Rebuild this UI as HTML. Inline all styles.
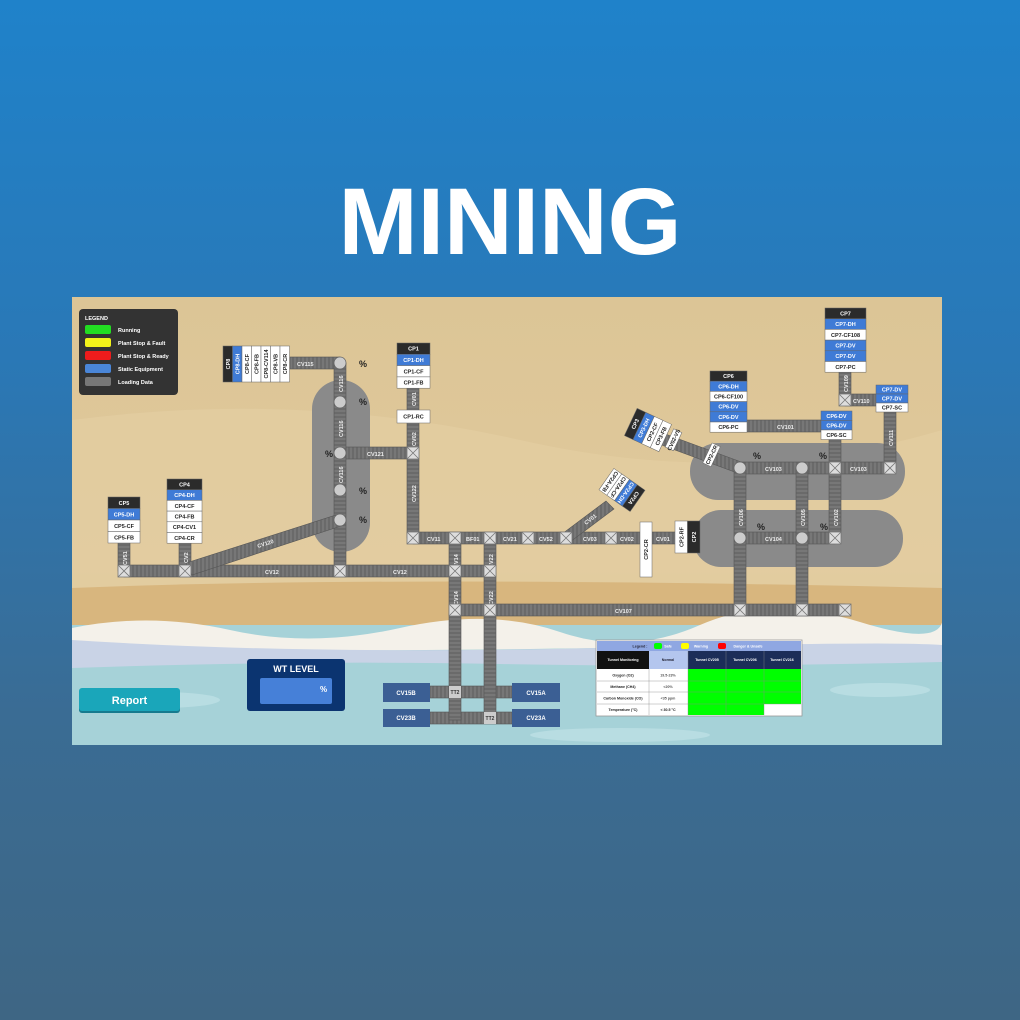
<!DOCTYPE html>
<html><head><meta charset="utf-8">
<style>
html,body{margin:0;padding:0;}
body{width:1020px;height:1020px;overflow:hidden;background:linear-gradient(180deg,#1f82ca 0%,#2a78b6 35%,#3a6c94 70%,#3e6684 100%);font-family:"Liberation Sans",sans-serif;position:relative;}
#title{position:absolute;left:0;width:1020px;top:167px;text-align:center;color:#fff;font-weight:bold;font-size:95px;letter-spacing:0px;line-height:110px;}
svg text{font-family:"Liberation Sans",sans-serif;font-weight:bold;}
</style></head>
<body>
<div id="title">MINING</div>
<svg width="1020" height="1020" style="position:absolute;left:0;top:0">
<defs>
<pattern id="ph" patternUnits="userSpaceOnUse" width="4" height="4"><rect width="4" height="4" fill="#777"/><rect width="2" height="4" fill="#6a6a6a"/></pattern>
<pattern id="pv" patternUnits="userSpaceOnUse" width="4" height="4"><rect width="4" height="4" fill="#777"/><rect width="4" height="2" fill="#6a6a6a"/></pattern>
<linearGradient id="sand" x1="0" y1="0" x2="0" y2="1"><stop offset="0" stop-color="#dcc596"/><stop offset="0.6" stop-color="#e0c99c"/><stop offset="1" stop-color="#d6b47c"/></linearGradient>
<clipPath id="pc"><rect x="72" y="297" width="870" height="448"/></clipPath>
</defs>
<g clip-path="url(#pc)">
<rect x="72" y="297" width="870" height="448" fill="url(#sand)"/>
<path d="M72 420 Q300 390 520 440 T942 430 L942 600 L72 600Z" fill="#e4cfa4" opacity="0.6"/>
<path d="M72 588 Q400 575 942 588 L942 625 L72 625Z" fill="#d8b67e"/>
<rect x="72" y="625" width="870" height="120" fill="#a6d2d8"/>
<path d="M72 628 Q150 612 230 630 T400 628 T560 632 T700 625 T860 622 T942 612 L942 650 Q800 645 600 648 T300 650 T72 652Z" fill="#f4f1ea"/>
<path d="M72 640 Q300 655 600 648 T942 645 L942 662 Q700 668 500 664 T72 668Z" fill="#c9d3e6"/>
<ellipse cx="160" cy="700" rx="60" ry="8" fill="#b8dde2"/>
<ellipse cx="620" cy="735" rx="90" ry="7" fill="#b8dde2"/>
<ellipse cx="880" cy="690" rx="50" ry="7" fill="#b8dde2"/>
</g>
<rect x="312" y="380" width="58" height="172" rx="29" fill="#8a8a8a"/>
<rect x="690" y="443" width="215" height="57" rx="28" fill="#8a8a8a"/>
<rect x="693" y="510" width="210" height="57" rx="28" fill="#8a8a8a"/>
<g>
<rect x="79" y="309" width="99" height="86" rx="4" fill="#333"/>
<text x="85" y="320" font-size="5.5" fill="#fff">LEGEND</text>
<rect x="85" y="325" width="26" height="9" rx="2" fill="#22dd22"/><text x="118" y="332" font-size="5.5" fill="#fff">Running</text>
<rect x="85" y="338" width="26" height="9" rx="2" fill="#f2f21a"/><text x="118" y="345" font-size="5.5" fill="#fff">Plant Stop &amp; Fault</text>
<rect x="85" y="351" width="26" height="9" rx="2" fill="#ee1c1c"/><text x="118" y="358" font-size="5.5" fill="#fff">Plant Stop &amp; Ready</text>
<rect x="85" y="364" width="26" height="9" rx="2" fill="#4a86d8"/><text x="118" y="371" font-size="5.5" fill="#fff">Static Equipment</text>
<rect x="85" y="377" width="26" height="9" rx="2" fill="#777"/><text x="118" y="384" font-size="5.5" fill="#fff">Loading Data</text>
</g>
<g stroke="#555" stroke-width="0.6">
<rect x="124" y="565" width="366" height="12" fill="url(#ph)"/>
<rect x="290" y="357" width="50" height="12" fill="url(#ph)"/>
<rect x="340" y="447" width="73" height="12" fill="url(#ph)"/>
<rect x="413" y="532" width="227" height="12" fill="url(#ph)"/>
<rect x="652" y="532" width="24" height="12" fill="url(#ph)"/>
<rect x="455" y="604" width="390" height="12" fill="url(#ph)"/>
<rect x="430" y="686" width="82" height="12" fill="url(#ph)"/>
<rect x="430" y="712" width="82" height="12" fill="url(#ph)"/>
<rect x="740" y="462" width="150" height="12" fill="url(#ph)"/>
<rect x="740" y="532" width="95" height="12" fill="url(#ph)"/>
<rect x="747" y="420" width="75" height="12" fill="url(#ph)"/>
<rect x="845" y="394" width="31" height="12" fill="url(#ph)"/>
<rect x="118" y="543" width="12" height="28" fill="url(#pv)"/>
<rect x="179" y="543" width="12" height="28" fill="url(#pv)"/>
<rect x="334" y="363" width="12" height="208" fill="url(#pv)"/>
<rect x="407" y="388" width="12" height="150" fill="url(#pv)"/>
<rect x="449" y="538" width="12" height="182" fill="url(#pv)"/>
<rect x="484" y="538" width="12" height="182" fill="url(#pv)"/>
<rect x="734" y="468" width="12" height="142" fill="url(#pv)"/>
<rect x="796" y="468" width="12" height="142" fill="url(#pv)"/>
<rect x="829" y="439" width="12" height="99" fill="url(#pv)"/>
<rect x="839" y="372" width="12" height="28" fill="url(#pv)"/>
<rect x="884" y="412" width="12" height="56" fill="url(#pv)"/>
<polygon points="186,563 336,515 344,525 192,575" fill="url(#ph)"/>
<polygon points="562,534 606,501 614,509 570,542" fill="url(#ph)"/>
<polygon points="660,432 744,463 740,474 656,443" fill="url(#ph)"/>
</g>
<g font-size="5.5" fill="#eee">
<text x="265" y="574">CV12</text><text x="393" y="574">CV12</text>
<text x="297" y="366">CV115</text><text x="367" y="456">CV121</text>
<text x="427" y="541">CV11</text><text x="466" y="541">BF01</text><text x="503" y="541">CV21</text>
<text x="539" y="541">CV52</text><text x="583" y="541">CV03</text><text x="620" y="541">CV02</text><text x="656" y="541">CV01</text>
<text x="615" y="613">CV107</text><text x="765" y="471">CV103</text><text x="850" y="471">CV103</text>
<text x="765" y="541">CV104</text><text x="777" y="429">CV101</text><text x="853" y="403">CV110</text>
<text transform="translate(258,548) rotate(-18)">CV120</text>
<text transform="translate(586,525) rotate(-37)">CV01</text>
<text transform="translate(127,565) rotate(-90)">CV51</text>
<text transform="translate(188,563) rotate(-90)">CV2</text>
<text transform="translate(343,392) rotate(-90)">CV116</text>
<text transform="translate(343,437) rotate(-90)">CV116</text>
<text transform="translate(343,483) rotate(-90)">CV116</text>
<text transform="translate(416,406) rotate(-90)">CV01</text>
<text transform="translate(416,446) rotate(-90)">CV02</text>
<text transform="translate(416,502) rotate(-90)">CV122</text>
<text transform="translate(458,568) rotate(-90)">CV14</text>
<text transform="translate(493,568) rotate(-90)">CV22</text>
<text transform="translate(458,605) rotate(-90)">CV14</text>
<text transform="translate(493,605) rotate(-90)">CV22</text>
<text transform="translate(743,526) rotate(-90)">CV106</text>
<text transform="translate(805,526) rotate(-90)">CV105</text>
<text transform="translate(838,526) rotate(-90)">CV102</text>
<text transform="translate(848,392) rotate(-90)">CV109</text>
<text transform="translate(893,446) rotate(-90)">CV111</text>
</g>
<g id="junc" fill="#ddd" stroke="#777" stroke-width="0.8"></g>
<g id="circ" fill="#ccc" stroke="#666" stroke-width="0.8"></g>
<g font-size="9" fill="#222" font-weight="normal">
<text x="359" y="367">%</text><text x="359" y="405">%</text><text x="325" y="457">%</text><text x="359" y="494">%</text><text x="359" y="523">%</text>
<text x="753" y="459">%</text><text x="819" y="459">%</text><text x="757" y="530">%</text><text x="820" y="530">%</text>
</g>
<g id="boxes" font-size="5.5" text-anchor="middle"></g>
<g font-size="6" fill="#fff" text-anchor="middle">
<rect x="383" y="683" width="47" height="19" fill="#3b5f94"/><text x="406" y="695">CV15B</text>
<rect x="512" y="683" width="48" height="19" fill="#3b5f94"/><text x="536" y="695">CV15A</text>
<rect x="383" y="709" width="47" height="18" fill="#3b5f94"/><text x="406" y="720">CV23B</text>
<rect x="512" y="709" width="48" height="18" fill="#3b5f94"/><text x="536" y="720">CV23A</text>
<rect x="449" y="686" width="12" height="12" fill="#ccc"/><text x="455" y="694" fill="#333" font-size="5">TT2</text>
<rect x="484" y="712" width="12" height="12" fill="#ccc"/><text x="490" y="720" fill="#333" font-size="5">TT2</text>
</g>
<g>
<rect x="79" y="689" width="101" height="24" rx="3" fill="#167a8e"/>
<rect x="79" y="688" width="101" height="23" rx="3" fill="#1aa6ba"/>
<text x="129.5" y="704" font-size="11" fill="#fff" text-anchor="middle">Report</text>
</g>
<g>
<rect x="247" y="659" width="98" height="52" rx="3" fill="#0b3470"/>
<text x="296" y="672" font-size="9" fill="#fff" text-anchor="middle">WT LEVEL</text>
<rect x="260" y="678" width="72" height="26" rx="2" fill="#4680d8"/>
<text x="320" y="692" font-size="8" fill="#fff">%</text>
</g>
<g font-size="3.6" text-anchor="middle">
<rect x="596" y="640" width="206" height="76" fill="#fff" stroke="#999" stroke-width="0.8"/>
<rect x="597" y="641" width="204" height="10" fill="#8fa7e2"/>
<text x="640" y="647.5" fill="#223">Legend :</text>
<rect x="654" y="643" width="8" height="6" rx="2" fill="#0f0"/><text x="668" y="647.5" fill="#fff">Safe</text>
<rect x="681" y="643" width="8" height="6" rx="2" fill="#ff0"/><text x="701" y="647.5" fill="#fff">Warning</text>
<rect x="718" y="643" width="8" height="6" rx="2" fill="#f00"/><text x="748" y="647.5" fill="#fff">Danger &amp; Unsafe</text>
<rect x="597" y="651" width="52" height="18" fill="#111"/><text x="623" y="661" fill="#fff">Tunnel Monitoring</text>
<rect x="649" y="651" width="39" height="18" fill="#b4c6ee"/><text x="668" y="661" fill="#223">Normal</text>
<rect x="688" y="651" width="113" height="18" fill="#1c2d58"/>
<text x="707" y="661" fill="#fff">Tunnel CV205</text><text x="745" y="661" fill="#fff">Tunnel CV206</text><text x="782" y="661" fill="#fff">Tunnel CV216</text>
<rect x="688" y="669" width="113" height="35" fill="#00ff00"/>
<rect x="688" y="704" width="76" height="11" fill="#00ff00"/>
<g stroke="#888" stroke-width="0.4"><line x1="597" y1="681" x2="801" y2="681"/><line x1="597" y1="692" x2="801" y2="692"/><line x1="597" y1="704" x2="801" y2="704"/><line x1="649" y1="669" x2="649" y2="715"/><line x1="688" y1="651" x2="688" y2="715"/><line x1="726" y1="651" x2="726" y2="715"/><line x1="764" y1="651" x2="764" y2="715"/></g>
<text x="623" y="676.5" fill="#222">Oxygen (O2)</text><text x="668" y="676.5" fill="#555">19.5-23%</text>
<text x="623" y="688" fill="#222">Methane (CH4)</text><text x="668" y="688" fill="#555">&lt;20%</text>
<text x="623" y="699.5" fill="#222">Carbon Monoxide (CO)</text><text x="668" y="699.5" fill="#555">&lt;35 ppm</text>
<text x="623" y="711" fill="#222">Temperature (°C)</text><text x="668" y="711" fill="#222">&lt; 30.5 °C</text>
</g>
</svg>
<script>
var NS='http://www.w3.org/2000/svg';
var juncs=[[124,571],[185,571],[340,571],[455,571],[490,571],[413,453],[413,538],[455,538],[490,538],[528,538],[566,538],[611,538],[455,610],[490,610],[740,610],[802,610],[845,610],[835,468],[890,468],[835,538],[845,400]];
var circs=[[340,363],[340,402],[340,453],[340,490],[340,520],[740,468],[802,468],[740,538],[802,538]];
var jg=document.getElementById('junc');
juncs.forEach(function(p){
var g=document.createElementNS(NS,'g');


var r=document.createElementNS(NS,'rect');r.setAttribute('x',p[0]-6);r.setAttribute('y',p[1]-6);r.setAttribute('width',12);r.setAttribute('height',12);g.appendChild(r);
var l=document.createElementNS(NS,'path');l.setAttribute('d','M'+(p[0]-6)+' '+(p[1]-6)+'l12 12M'+(p[0]+6)+' '+(p[1]-6)+'l-12 12');g.appendChild(l);
jg.appendChild(g);});
var cg=document.getElementById('circ');
circs.forEach(function(p){
var c=document.createElementNS(NS,'circle');


c.setAttribute('cx',p[0]);c.setAttribute('cy',p[1]);c.setAttribute('r',6);cg.appendChild(c);});
var bg=document.getElementById('boxes');
function col(x,y,w,h,items){
items.forEach(function(it,i){
var t=it[1],fill=t=='k'?'#2b2b2b':t=='b'?'#3f7bd6':'#fff',tc=t=='w'?'#222':'#fff';
var r=document.createElementNS(NS,'rect');


r.setAttribute('x',x);r.setAttribute('y',y+i*h);r.setAttribute('width',w);r.setAttribute('height',h);r.setAttribute('fill',fill);r.setAttribute('stroke','#666');r.setAttribute('stroke-width','0.5');bg.appendChild(r);
var tx=document.createElementNS(NS,'text');tx.setAttribute('x',x+w/2);tx.setAttribute('y',y+i*h+h/2+2);tx.setAttribute('fill',tc);tx.textContent=it[0];bg.appendChild(tx);});}
function row(g,x,y,w,h,items){
items.forEach(function(it,i){
var t=it[1],fill=t=='k'?'#2b2b2b':t=='b'?'#3f7bd6':'#fff',tc=t=='w'?'#222':'#fff';
var r=document.createElementNS(NS,'rect');


r.setAttribute('x',x+i*w);r.setAttribute('y',y);r.setAttribute('width',w);r.setAttribute('height',h);r.setAttribute('fill',fill);r.setAttribute('stroke','#666');r.setAttribute('stroke-width','0.5');g.appendChild(r);
var tx=document.createElementNS(NS,'text');var cx=x+i*w+w/2+2,cy=y+h/2;tx.setAttribute('transform','translate('+cx+','+cy+') rotate(-90)');tx.setAttribute('fill',tc);tx.textContent=it[0];g.appendChild(tx);});}
col(108,497,32,11.5,[['CP5','k'],['CP5-DH','b'],['CP5-CF','w'],['CP5-FB','w']]);
col(167,479,35,10.7,[['CP4','k'],['CP4-DH','b'],['CP4-CF','w'],['CP4-FB','w'],['CP4-CV1','w'],['CP4-CR','w']]);
col(397,343,33,11.3,[['CP1','k'],['CP1-DH','b'],['CP1-CF','w'],['CP1-FB','w']]);
col(397,410,33,13,[['CP1-RC','w']]);
col(710,371,37,10.2,[['CP6','k'],['CP6-DH','b'],['CP6-CF100','w'],['CP6-DV','b'],['CP6-DV','b'],['CP6-PC','w']]);
col(825,308,41,10.7,[['CP7','k'],['CP7-DH','b'],['CP7-CF108','w'],['CP7-DV','b'],['CP7-DV','b'],['CP7-PC','w']]);
col(821,411,31,9.5,[['CP6-DV','b'],['CP6-DV','b'],['CP6-SC','w']]);
col(876,385,32,9,[['CP7-DV','b'],['CP7-DV','b'],['CP7-SC','w']]);
var g8=document.createElementNS(NS,'g');bg.appendChild(g8);
row(g8,223,346,9.5,36,[['CP8','k'],['CP8-DH','b'],['CP8-CF','w'],['CP8-FB','w'],['CP8-CV114','w'],['CP8-VB','w'],['CP8-CR','w']]);
var g3=document.createElementNS(NS,'g');g3.setAttribute('transform','translate(648,430) rotate(25)');bg.appendChild(g3);
row(g3,-19,-15,9.5,30,[['CP3','k'],['CP3-DH','b'],['CP2-CF','w'],['CP3-FB','w']]);
var g2a=document.createElementNS(NS,'g');g2a.setAttribute('transform','translate(622,490) rotate(-145)');bg.appendChild(g2a);
row(g2a,-19,-13,9.5,26,[['CP2A','k'],['CP2A-DH','b'],['CP2A-CF','w'],['CP2A-FB','w']]);
var g2=document.createElementNS(NS,'g');bg.appendChild(g2);
row(g2,640,522,12,55,[['CP2-CR','w']]);
row(g2,675,521,12.5,32,[['CP2-RF','w'],['CP2','k']]);
var gv=document.createElementNS(NS,'g');gv.setAttribute('transform','translate(674,440) rotate(25)');bg.appendChild(gv);
row(gv,-5,-10,9,20,[['CV02-VS','w']]);
var gc=document.createElementNS(NS,'g');gc.setAttribute('transform','translate(712,455) rotate(25)');bg.appendChild(gc);
row(gc,-5,-11,9,22,[['CP2-CR','w']]);
</script>
</body></html>
